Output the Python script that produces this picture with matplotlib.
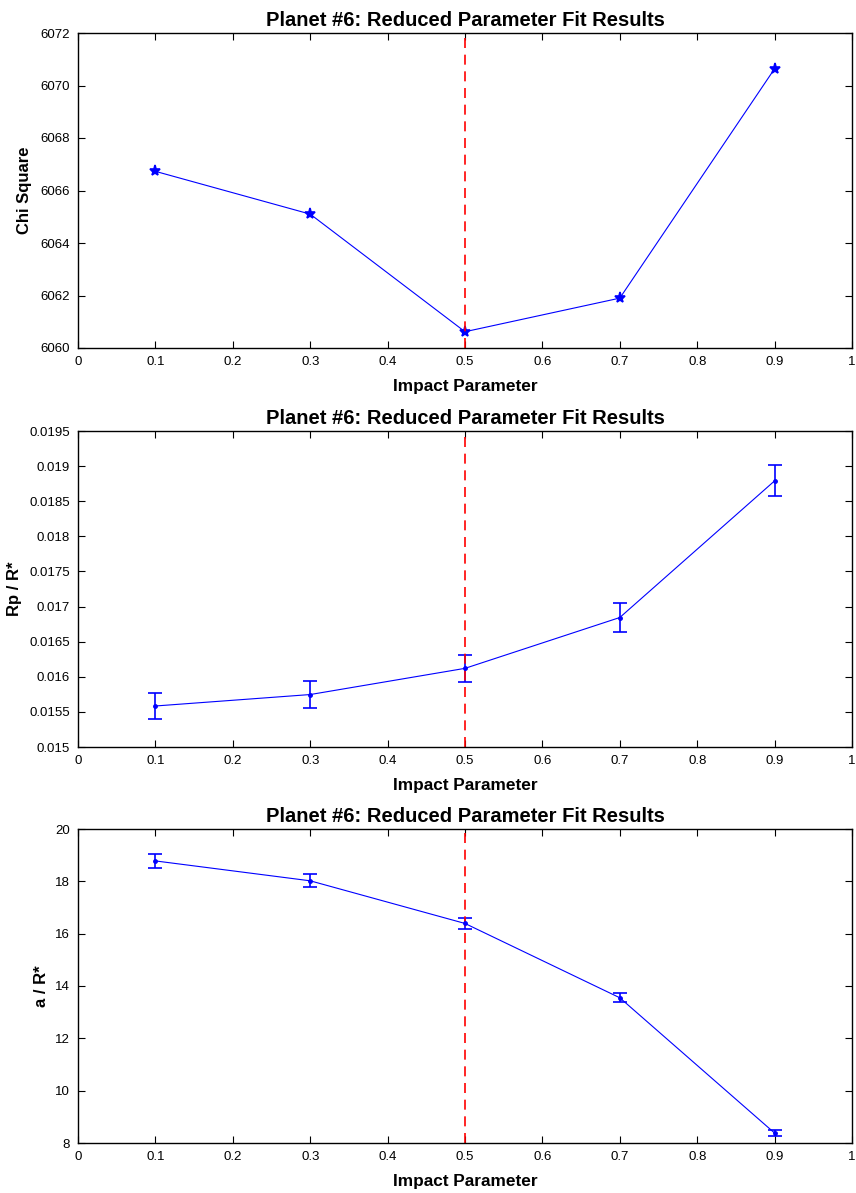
import matplotlib
matplotlib.use("Agg")
import matplotlib.pyplot as plt
import numpy as np

plt.rcParams['font.family'] = ['Liberation Sans', 'DejaVu Sans']

impact = [0.1, 0.3, 0.5, 0.7, 0.9]
chi_square = [6066.73, 6065.10, 6060.62, 6061.90, 6070.64]
rp_rstar = [0.015584, 0.015747, 0.016120, 0.016844, 0.018790]
rp_err = [0.00019, 0.00019, 0.00019, 0.00020, 0.00022]
a_rstar = [18.78, 18.02, 16.39, 13.55, 8.38]
a_err = [0.26, 0.25, 0.22, 0.18, 0.13]
best_b = 0.5

title = "Planet #6: Reduced Parameter Fit Results"
xlab = "Impact Parameter"
xticks = [0, 0.1, 0.2, 0.3, 0.4, 0.5, 0.6, 0.7, 0.8, 0.9, 1]
xticklabels = ["0", "0.1", "0.2", "0.3", "0.4", "0.5", "0.6", "0.7", "0.8", "0.9", "1"]

fig = plt.figure(figsize=(8.56, 11.93), dpi=100)
W, H = 856, 1193
def pos(l, t, r, b):
    return [l / W, 1 - b / H, (r - l) / W, (b - t) / H]

ax1 = fig.add_axes(pos(78, 33, 852, 348))
ax2 = fig.add_axes(pos(78, 431, 852, 747))
ax3 = fig.add_axes(pos(78, 829, 852, 1143))

blue = (0, 0, 1)

ax1.plot(impact, chi_square, color=blue, lw=0.8, marker='*', ms=8, mfc=blue, mec=blue, mew=1.2)
ax1.set_ylim(6060, 6072)
ax1.set_yticks([6060, 6062, 6064, 6066, 6068, 6070, 6072])
ax1.set_yticklabels(["6060", "6062", "6064", "6066", "6068", "6070", "6072"])
ax1.set_ylabel("Chi Square", fontsize=12, fontweight='bold', labelpad=6)

ax2.errorbar(impact, rp_rstar, yerr=rp_err, color=blue, lw=0.8, elinewidth=1.2,
             capsize=4.8, capthick=1.2, marker='.', ms=5)
ax2.set_ylim(0.015, 0.0195)
yt2 = [0.015, 0.0155, 0.016, 0.0165, 0.017, 0.0175, 0.018, 0.0185, 0.019, 0.0195]
ax2.set_yticks(yt2)
ax2.set_yticklabels(["0.015", "0.0155", "0.016", "0.0165", "0.017", "0.0175", "0.018", "0.0185", "0.019", "0.0195"])
ax2.set_ylabel("Rp / R*", fontsize=12, fontweight='bold', labelpad=5)

ax3.errorbar(impact, a_rstar, yerr=a_err, color=blue, lw=0.8, elinewidth=1.2,
             capsize=4.8, capthick=1.2, marker='.', ms=5)
ax3.set_ylim(8, 20)
ax3.set_yticks([8, 10, 12, 14, 16, 18, 20])
ax3.set_yticklabels(["8", "10", "12", "14", "16", "18", "20"])
ax3.set_ylabel("a / R*", fontsize=12, fontweight='bold', labelpad=4)

for ax in (ax1, ax2, ax3):
    ax.axvline(best_b, color='red', ls=(0, (6, 4)), lw=1.2)
    ax.set_xlim(0, 1)
    ax.set_xticks(xticks)
    ax.set_xticklabels(xticklabels)
    ax.set_xlabel(xlab, fontsize=12.4, fontweight='bold', labelpad=8)
    ax.set_title(title, fontsize=14.5, fontweight='bold', pad=5)
    ax.tick_params(direction='in', top=True, right=True, length=5, width=0.8,
                   labelsize=9.5, pad=6)
    for s in ax.spines.values():
        s.set_linewidth(1.0)

fig.savefig("out.png", dpi=100)
